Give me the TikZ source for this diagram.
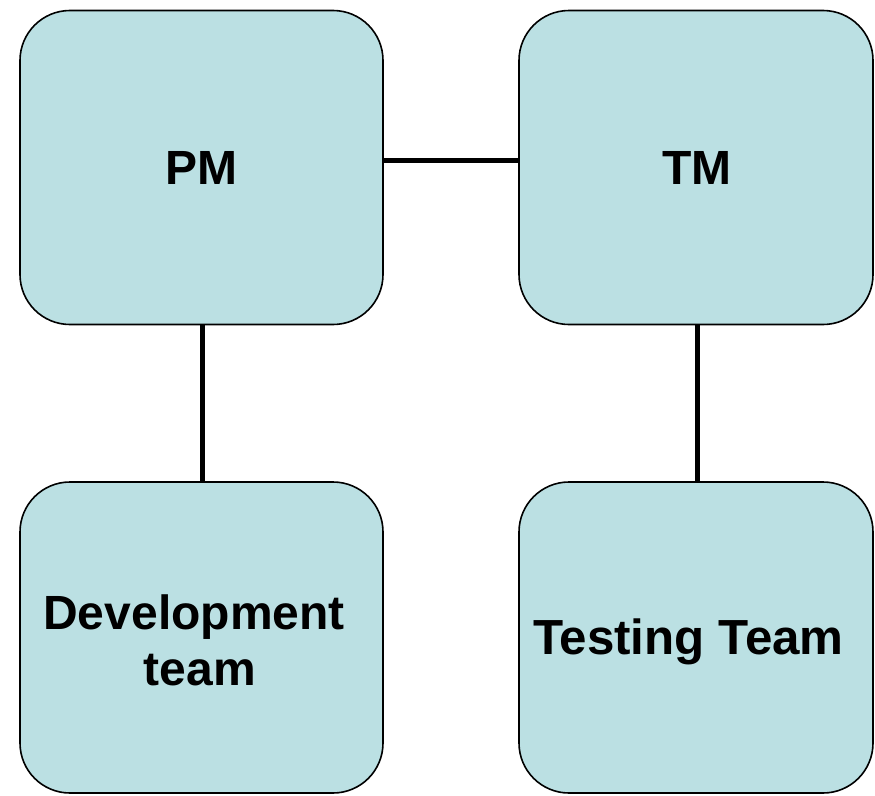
\documentclass[tikz,border=0pt]{standalone}
\usepackage{fontspec}
\setmainfont{Liberation Sans}
\definecolor{boxfill}{RGB}{187,224,227}
\begin{document}
\begin{tikzpicture}[x=1pt,y=-1pt,
  teambox/.style={draw=black,line width=1.6pt,fill=boxfill,rounded corners=50pt,
    minimum width=363pt,minimum height=314pt,inner sep=0pt,outer sep=0pt},
  label/.style={font=\fontsize{48}{56}\selectfont\bfseries,align=center,inner sep=0pt},
  link/.style={line width=5pt,draw=black}]
\useasboundingbox (0,0) rectangle (875,795);
\node[teambox] (pm) at (201.5,167.5) {};
\node[teambox,minimum width=354pt] (tm) at (696,167.5) {};
\node[teambox,minimum height=311pt] (dev) at (201.5,637.5) {};
\node[teambox,minimum width=354pt,minimum height=311pt] (test) at (696,637.5) {};
\node[label] (pmt) at (201.5,168) {PM};
\node[label] (tmt) at (697,168) {TM};
\node[label] (devt) at (200,640) {Development\hspace*{12pt}\\team};
\node[label,font=\fontsize{49.3}{56}\selectfont\bfseries] (testt) at (688.5,642) {Testing Team};
\draw[link] (pm.east |- 0,160) -- (tm.west |- 0,160);
\draw[link] (pm.south -| 202,0) -- (dev.north -| 202,0);
\draw[link] (tm.south -| 697,0) -- (test.north -| 697,0);
\end{tikzpicture}
\end{document}
